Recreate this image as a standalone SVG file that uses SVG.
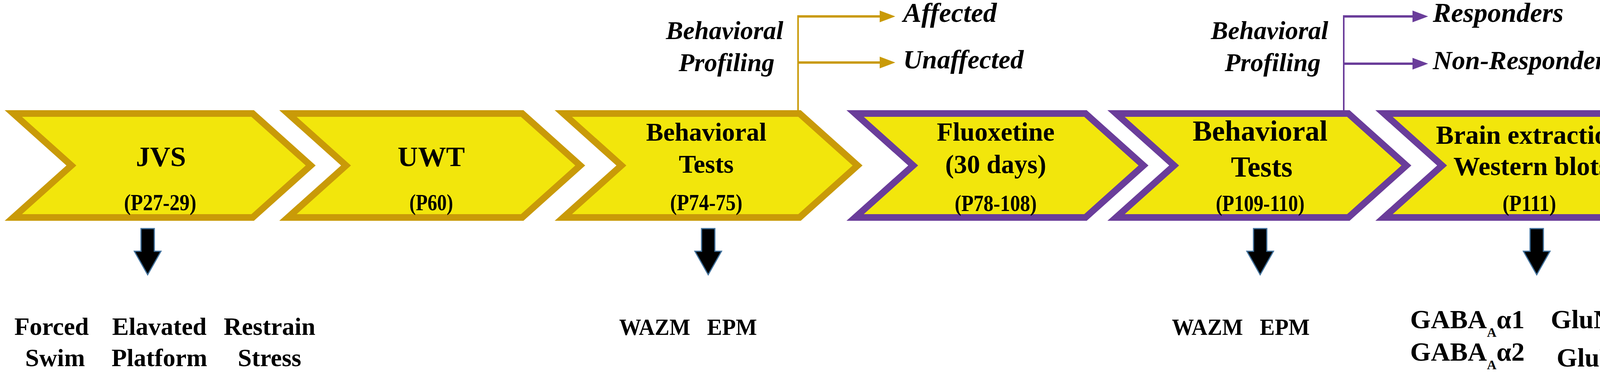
<svg xmlns="http://www.w3.org/2000/svg" width="4317" height="952" viewBox="0 0 4317 952">
<style>
.bg{fill:#ffffff}
.chev{fill:#F2E60C;stroke-width:17;stroke-linejoin:miter;stroke-miterlimit:10}
.gold{stroke:#C99A08}
.purp{stroke:#6A3D9A}
.t{font-family:"Liberation Serif","Times New Roman",serif;font-weight:bold;fill:#000;text-anchor:middle}
.ti{font-family:"Liberation Serif","Times New Roman",serif;font-weight:bold;font-style:italic;fill:#000}
.tb{font-family:"Liberation Serif","Times New Roman",serif;font-weight:bold;fill:#000}
.dn{fill:#000;stroke:#41719C;stroke-width:3;stroke-linejoin:miter}
</style>
<defs>
<marker id="ahGold" markerUnits="userSpaceOnUse" markerWidth="40" markerHeight="30" refX="0" refY="15" orient="auto"><path d="M0,0 L40,15 L0,30 z" fill="#C99A08"/></marker>
<marker id="ahPurp" markerUnits="userSpaceOnUse" markerWidth="40" markerHeight="30" refX="0" refY="15" orient="auto"><path d="M0,0 L40,15 L0,30 z" fill="#6A3D9A"/></marker>
<path id="down" d="M-17,585 L17,585 L17,643 L34,643 L0,703 L-34,643 L-17,643 z"/>
</defs>
<rect class="bg" x="0" y="0" width="4317" height="952"/>

<g id="connectors">
<path d="M2043,284 V40" stroke="#C99A08" stroke-width="4" fill="none"/>
<path d="M2041,42 H2252" stroke="#C99A08" stroke-width="6" fill="none" marker-end="url(#ahGold)"/>
<path d="M2041,160 H2252" stroke="#C99A08" stroke-width="6" fill="none" marker-end="url(#ahGold)"/>
<path d="M3440,284 V40" stroke="#6A3D9A" stroke-width="4" fill="none"/>
<path d="M3438,42 H3616" stroke="#6A3D9A" stroke-width="6" fill="none" marker-end="url(#ahPurp)"/>
<path d="M3438,163 H3616" stroke="#6A3D9A" stroke-width="6" fill="none" marker-end="url(#ahPurp)"/>
<use href="#down" class="dn" x="378"/>
<use href="#down" class="dn" x="1813"/>
<use href="#down" class="dn" x="3226"/>
<use href="#down" class="dn" x="3934"/>
</g>

<g id="jvs">
<polygon class="chev gold" points="34.2,290.5 646.8,290.5 795.3,423.5 646.8,556.5 34.2,556.5 182.7,423.5"/>
<text class="t" x="412" y="425" font-size="72">JVS</text>
<text class="t" x="410" y="538" font-size="60" textLength="185" lengthAdjust="spacingAndGlyphs">(P27-29)</text>
</g>

<g id="uwt">
<polygon class="chev gold" points="737.2,290.5 1336.8,290.5 1485.3,423.5 1336.8,556.5 737.2,556.5 885.7,423.5"/>
<text class="t" x="1104" y="425" font-size="72">UWT</text>
<text class="t" x="1104" y="538" font-size="60" textLength="112" lengthAdjust="spacingAndGlyphs">(P60)</text>
</g>

<g id="behav1">
<polygon class="chev gold" points="1442.2,290.5 2046.8,290.5 2195.3,423.5 2046.8,556.5 1442.2,556.5 1590.7,423.5"/>
<text class="t" x="1808" y="360" font-size="66">Behavioral</text>
<text class="t" x="1808" y="442" font-size="66">Tests</text>
<text class="t" x="1808" y="538" font-size="60" textLength="185" lengthAdjust="spacingAndGlyphs">(P74-75)</text>
</g>

<g id="fluox">
<polygon class="chev purp" points="2189.2,290.5 2778.8,290.5 2927.3,423.5 2778.8,556.5 2189.2,556.5 2337.7,423.5"/>
<text class="t" x="2549" y="360" font-size="67">Fluoxetine</text>
<text class="t" x="2549" y="443" font-size="67">(30 days)</text>
<text class="t" x="2549" y="540" font-size="60" textLength="210" lengthAdjust="spacingAndGlyphs">(P78-108)</text>
</g>

<g id="behav2">
<polygon class="chev purp" points="2857.2,290.5 3451.8,290.5 3600.3,423.5 3451.8,556.5 2857.2,556.5 3005.7,423.5"/>
<text class="t" x="3226" y="360" font-size="74">Behavioral</text>
<text class="t" x="3230" y="452" font-size="74">Tests</text>
<text class="t" x="3226" y="540" font-size="60" textLength="227" lengthAdjust="spacingAndGlyphs">(P109-110)</text>
</g>

<g id="brain">
<polygon class="chev purp" points="3543.2,290.5 4143.8,290.5 4292.3,423.5 4143.8,556.5 3543.2,556.5 3691.7,423.5"/>
<text class="t" x="3915" y="368" font-size="68">Brain extraction</text>
<text class="t" x="3920" y="448" font-size="68">Western blots</text>
<text class="t" x="3915" y="540" font-size="60" textLength="137" lengthAdjust="spacingAndGlyphs">(P111)</text>
</g>

<g id="profiling1">
<text class="ti" x="1855" y="100" font-size="66" text-anchor="middle">Behavioral</text>
<text class="ti" x="1860" y="182" font-size="66" text-anchor="middle">Profiling</text>
<text class="ti" x="2312" y="56" font-size="70">Affected</text>
<text class="ti" x="2312" y="175" font-size="68">Unaffected</text>
</g>

<g id="profiling2">
<text class="ti" x="3250" y="100" font-size="66" text-anchor="middle">Behavioral</text>
<text class="ti" x="3258" y="182" font-size="66" text-anchor="middle">Profiling</text>
<text class="ti" x="3668" y="56" font-size="70">Responders</text>
<text class="ti" x="3668" y="177" font-size="68">Non-Responders</text>
</g>

<g id="stress-tests">
<text class="t" x="132" y="857" font-size="64">Forced</text>
<text class="t" x="141" y="937" font-size="64">Swim</text>
<text class="t" x="408" y="857" font-size="64">Elavated</text>
<text class="t" x="408" y="937" font-size="64">Platform</text>
<text class="t" x="690" y="857" font-size="64">Restrain</text>
<text class="t" x="690" y="937" font-size="64">Stress</text>
</g>

<g id="tests1">
<text class="tb" x="1585" y="857" font-size="60" textLength="182" lengthAdjust="spacingAndGlyphs">WAZM</text>
<text class="tb" x="1810" y="857" font-size="60" textLength="128" lengthAdjust="spacingAndGlyphs">EPM</text>
</g>

<g id="tests2">
<text class="tb" x="3000" y="857" font-size="60" textLength="182" lengthAdjust="spacingAndGlyphs">WAZM</text>
<text class="tb" x="3225" y="857" font-size="60" textLength="128" lengthAdjust="spacingAndGlyphs">EPM</text>
</g>

<g id="markers">
<text class="tb" x="3610" y="840" font-size="68">GABA<tspan font-size="34" dy="22">A</tspan><tspan dy="-22">α1</tspan></text>
<text class="tb" x="3970" y="840" font-size="68">GluN1</text>
<text class="tb" x="3610" y="923" font-size="68">GABA<tspan font-size="34" dy="22">A</tspan><tspan dy="-22">α2</tspan></text>
<text class="tb" x="3985" y="938" font-size="68">GluN2</text>
</g>
</svg>
